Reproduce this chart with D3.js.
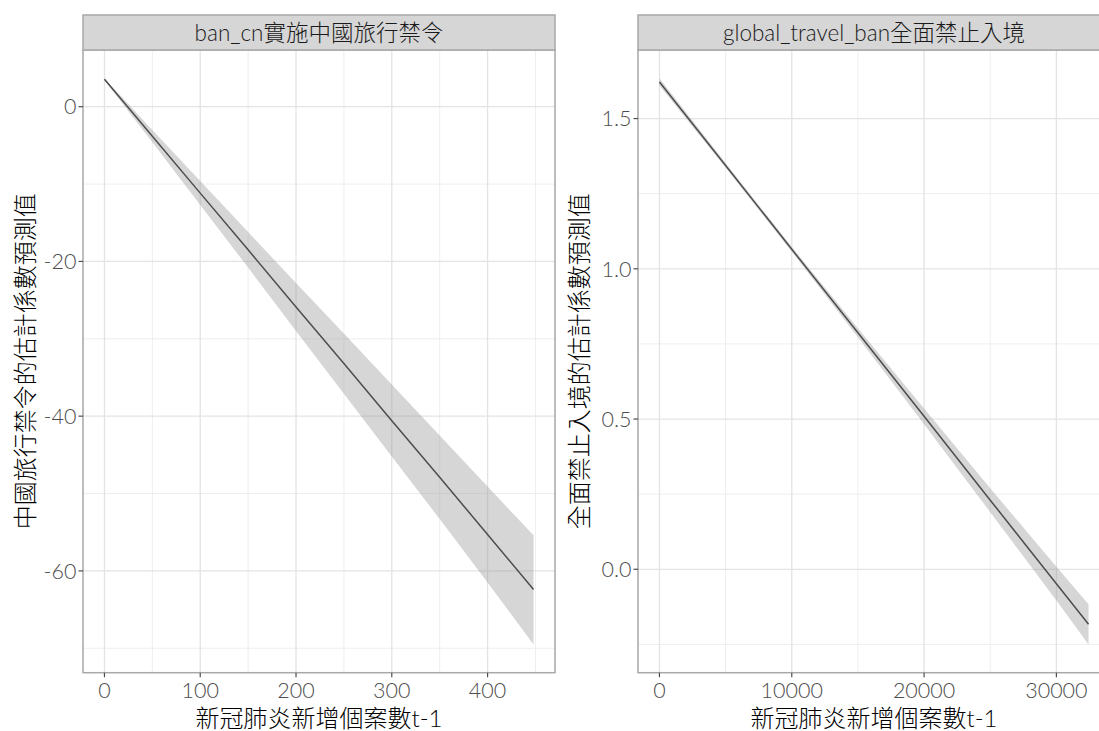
<!DOCTYPE html>
<html>
<head>
<meta charset="utf-8">
<script src="https://cdn.jsdelivr.net/npm/d3@7"></script>
<style>
  body { margin: 0; background: #fff; }
  text { font-family: Lato, "Noto Sans CJK TC", sans-serif; font-weight: 300; }
</style>
</head>
<body>
<div id="canvas"></div>
<script>
// ---- data ----
// panel 1: ban_cn
const banX = [0, 50, 100, 150, 200, 250, 300, 350, 400, 448];
const banFit = [3.54, -3.82, -11.17, -18.5, -25.9, -33.2, -40.6, -47.9, -55.3, -62.4];
const banLo = [3.41, -4.6, -12.7, -20.8, -29.0, -37.1, -45.2, -53.3, -61.5, -69.5];
const banHi = [3.67, -3.0, -9.6, -16.2, -22.8, -29.3, -35.9, -42.5, -49.1, -55.4];

// panel 2: global_travel_ban
const gtbX = [0, 5000, 10000, 15000, 20000, 25000, 30000, 32430];
const gtbFit = [1.622, 1.344, 1.065, 0.787, 0.509, 0.230, -0.048, -0.183];
const gtbLo = [1.610, 1.336, 1.057, 0.772, 0.483, 0.190, -0.104, -0.250];
const gtbHi = [1.634, 1.352, 1.073, 0.802, 0.535, 0.270, 0.008, -0.116];

// ticks
const banXTicks = [0, 100, 200, 300, 400];
const banXMinor = [50, 150, 250, 350, 450];
const banYTicks = [0, -20, -40, -60];
const banYLabels = ["0", "-20", "-40", "-60"];
const banYMinor = [-10, -30, -50, -70];

const gtbXTicks = [0, 10000, 20000, 30000];
const gtbXMinor = [5000, 15000, 25000];
const gtbYTicks = [0, 0.5, 1.0, 1.5];
const gtbYLabels = ["0.0", "0.5", "1.0", "1.5"];
const gtbYMinor = [-0.25, 0.25, 0.75, 1.25];

const stripTitles = ["ban_cn實施中國旅行禁令", "global_travel_ban全面禁止入境"];
const yTitles = ["中國旅行禁令的估計係數預測值", "全面禁止入境的估計係數預測值"];
const xTitle = "新冠肺炎新增個案數t-1";

// ---- layout ----
const width = 1099, height = 731;
const panelTop = 50, panelBottom = 672.7;
const stripTop = 15;
const panels = [
    { left: 83, right: 555, x: banX, fit: banFit, lo: banLo, hi: banHi,
      xTicks: banXTicks, xMinor: banXMinor, yTicks: banYTicks, yLabels: banYLabels, yMinor: banYMinor,
      xLabels: banXTicks.map(String), titleX: 25 },
    { left: 638, right: 1110, x: gtbX, fit: gtbFit, lo: gtbLo, hi: gtbHi,
      xTicks: gtbXTicks, xMinor: gtbXMinor, yTicks: gtbYTicks, yLabels: gtbYLabels, yMinor: gtbYMinor,
      xLabels: gtbXTicks.map(String), titleX: 579 }
];

const svg = d3.select("#canvas")
    .append("svg")
    .attr("width", width)
    .attr("height", height);

function expand(ext) {
    const pad = (ext[1] - ext[0]) * 0.05;
    return [ext[0] - pad, ext[1] + pad];
}

panels.forEach((p, i) => {
    const x = d3.scaleLinear()
        .domain(expand(d3.extent(p.x)))
        .range([p.left, p.right]);
    const y = d3.scaleLinear()
        .domain(expand([d3.min(p.lo), d3.max(p.hi)]))
        .range([panelBottom, panelTop]);

    const g = svg.append("g");

    const clipId = "clip" + i;
    g.append("clipPath").attr("id", clipId)
        .append("rect")
        .attr("x", p.left).attr("y", panelTop)
        .attr("width", p.right - p.left).attr("height", panelBottom - panelTop);

    const plot = g.append("g").attr("clip-path", `url(#${clipId})`);

    // minor grid
    plot.selectAll(".vminor").data(p.xMinor).join("line")
        .attr("class", "vminor")
        .attr("x1", d => x(d)).attr("x2", d => x(d))
        .attr("y1", panelTop).attr("y2", panelBottom)
        .attr("stroke", "#eeeeee").attr("stroke-width", 1);
    plot.selectAll(".hminor").data(p.yMinor).join("line")
        .attr("class", "hminor")
        .attr("x1", p.left).attr("x2", p.right)
        .attr("y1", d => y(d)).attr("y2", d => y(d))
        .attr("stroke", "#eeeeee").attr("stroke-width", 1);

    // major grid
    plot.selectAll(".vmajor").data(p.xTicks).join("line")
        .attr("class", "vmajor")
        .attr("x1", d => x(d)).attr("x2", d => x(d))
        .attr("y1", panelTop).attr("y2", panelBottom)
        .attr("stroke", "#e3e3e3").attr("stroke-width", 1.3);
    plot.selectAll(".hmajor").data(p.yTicks).join("line")
        .attr("class", "hmajor")
        .attr("x1", p.left).attr("x2", p.right)
        .attr("y1", d => y(d)).attr("y2", d => y(d))
        .attr("stroke", "#e3e3e3").attr("stroke-width", 1.3);

    // ribbon and fitted line
    const rows = p.x.map((v, k) => ({ x: v, fit: p.fit[k], lo: p.lo[k], hi: p.hi[k] }));

    plot.append("path")
        .datum(rows)
        .attr("d", d3.area().x(d => x(d.x)).y0(d => y(d.lo)).y1(d => y(d.hi)))
        .attr("fill", "#999999")
        .attr("fill-opacity", 0.4);

    plot.append("path")
        .datum(rows)
        .attr("d", d3.line().x(d => x(d.x)).y(d => y(d.fit)))
        .attr("fill", "none")
        .attr("stroke", "#4d4d4d")
        .attr("stroke-width", 1.5);

    // panel border
    g.append("rect")
        .attr("x", p.left).attr("y", panelTop)
        .attr("width", p.right - p.left).attr("height", panelBottom - panelTop)
        .attr("fill", "none")
        .attr("stroke", "#a8a8a8").attr("stroke-width", 1.5);

    // strip
    g.append("rect")
        .attr("x", p.left).attr("y", stripTop)
        .attr("width", p.right - p.left).attr("height", panelTop - stripTop)
        .attr("fill", "#d6d6d6")
        .attr("stroke", "#a8a8a8").attr("stroke-width", 1.5);
    g.append("text")
        .attr("x", (p.left + p.right) / 2)
        .attr("y", 41)
        .attr("text-anchor", "middle")
        .attr("font-size", 22.5)
        .attr("fill", "#1a1a1a")
        .text(stripTitles[i]);

    // x ticks
    g.selectAll(".xtick").data(p.xTicks).join("line")
        .attr("class", "xtick")
        .attr("x1", d => x(d)).attr("x2", d => x(d))
        .attr("y1", panelBottom).attr("y2", panelBottom + 4.5)
        .attr("stroke", "#4d4d4d").attr("stroke-width", 1.2);
    g.selectAll(".xlab").data(p.xTicks).join("text")
        .attr("class", "xlab")
        .attr("x", d => x(d))
        .attr("y", 698)
        .attr("text-anchor", "middle")
        .attr("font-size", 21.5)
        .attr("fill", "#4d4d4d")
        .text((d, k) => p.xLabels[k]);

    // y ticks
    g.selectAll(".ytick").data(p.yTicks).join("line")
        .attr("class", "ytick")
        .attr("x1", p.left - 4.5).attr("x2", p.left)
        .attr("y1", d => y(d)).attr("y2", d => y(d))
        .attr("stroke", "#4d4d4d").attr("stroke-width", 1.2);
    g.selectAll(".ylab").data(p.yTicks).join("text")
        .attr("class", "ylab")
        .attr("x", p.left - 6.5)
        .attr("y", d => y(d))
        .attr("dy", "0.36em")
        .attr("text-anchor", "end")
        .attr("font-size", 21.5)
        .attr("fill", "#4d4d4d")
        .text((d, k) => p.yLabels[k]);

    // axis titles
    g.append("text")
        .attr("x", (p.left + p.right) / 2)
        .attr("y", 727)
        .attr("text-anchor", "middle")
        .attr("font-size", 24)
        .attr("fill", "#000")
        .text(xTitle);

    const cy = (panelTop + panelBottom) / 2;
    g.append("text")
        .attr("transform", `translate(${p.titleX + 9},${cy}) rotate(-90)`)
        .attr("text-anchor", "middle")
        .attr("font-size", 24)
        .attr("fill", "#000")
        .text(yTitles[i]);
});
</script>
</body>
</html>
